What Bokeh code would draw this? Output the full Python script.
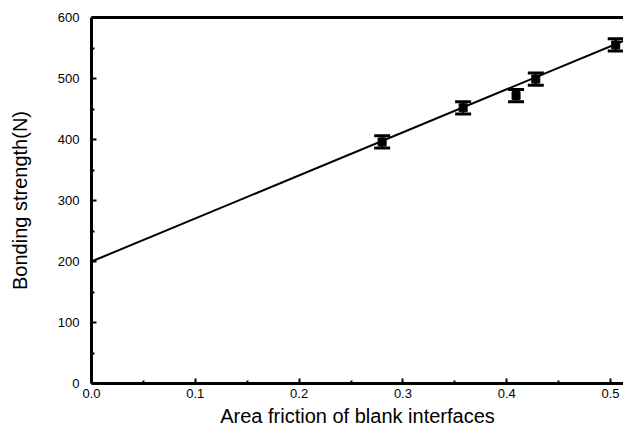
from bokeh.plotting import figure
from bokeh.models import (Range1d, LinearAxis, FixedTicker, Whisker, TeeHead,
                          ColumnDataSource, NumeralTickFormatter)
from bokeh.embed import file_html
from bokeh.resources import INLINE

# data
area_fraction = [0.280, 0.358, 0.409, 0.428, 0.505]
bonding_strength = [396, 452, 472, 499, 555]
error = [10, 10, 10, 10, 10]
fit_x = [0.0, 0.52]
fit_y = [200, 567]
x_ticks = [0.0, 0.1, 0.2, 0.3, 0.4, 0.5]
x_minor = [0.05, 0.15, 0.25, 0.35, 0.45]
y_ticks = [0, 100, 200, 300, 400, 500, 600]
y_minor = [50, 150, 250, 350, 450, 550]
x_title = "Area friction of blank interfaces"
y_title = "Bonding strength(N)"

FONT = "Liberation Sans"

p = figure(width=623, height=429, output_backend="svg", toolbar_location=None,
           x_range=Range1d(0, 0.5125), y_range=Range1d(0, 600),
           min_border_left=91, min_border_right=0, min_border_top=17, min_border_bottom=46,
           x_axis_label=x_title, y_axis_label=y_title)
p.outline_line_color = None
p.grid.visible = False
p.background_fill_color = "white"
p.border_fill_color = "white"

xax = p.below[0]
yax = p.left[0]
for ax, ticks, minor in ((xax, x_ticks, x_minor), (yax, y_ticks, y_minor)):
    ax.ticker = FixedTicker(ticks=ticks, minor_ticks=minor)
    ax.axis_line_width = 3
    ax.axis_line_color = "black"
    ax.major_tick_in = 5
    ax.major_tick_out = 0
    ax.minor_tick_in = 3
    ax.minor_tick_out = 0
    ax.major_tick_line_width = 2
    ax.minor_tick_line_width = 2
    ax.major_tick_line_color = "black"
    ax.minor_tick_line_color = "black"
    ax.major_label_text_font = FONT
    ax.major_label_text_font_size = "13px"
    ax.major_label_text_color = "black"
    ax.axis_label_text_font = FONT
    ax.axis_label_text_font_size = "20px"
    ax.axis_label_text_font_style = "normal"
    ax.axis_label_text_color = "black"

xax.formatter = NumeralTickFormatter(format="0.0")
xax.major_label_standoff = 5
xax.axis_label_standoff = 4
yax.major_label_standoff = 12
yax.axis_label_standoff = 24

# top border line (no ticks, no labels)
top = LinearAxis(ticker=FixedTicker(ticks=[], minor_ticks=[]),
                 major_label_text_font_size="0px", major_label_standoff=0,
                 axis_line_width=3, axis_line_color="black",
                 major_tick_in=0, major_tick_out=0, minor_tick_in=0, minor_tick_out=0)
p.add_layout(top, "above")

# fit line
p.line(fit_x, fit_y, line_color="black", line_width=2)

src = ColumnDataSource(dict(
    x=area_fraction, y=bonding_strength,
    lo=[v - e for v, e in zip(bonding_strength, error)],
    hi=[v + e for v, e in zip(bonding_strength, error)]))

w = Whisker(source=src, base="x", lower="lo", upper="hi", dimension="height",
            line_color="black", line_width=2,
            upper_head=TeeHead(size=16, line_width=3, line_color="black"),
            lower_head=TeeHead(size=16, line_width=3, line_color="black"))
p.add_layout(w)

p.scatter("x", "y", source=src, marker="square", size=8,
          fill_color="black", line_color="black")

open("out.html", "w").write(file_html(p, INLINE))
